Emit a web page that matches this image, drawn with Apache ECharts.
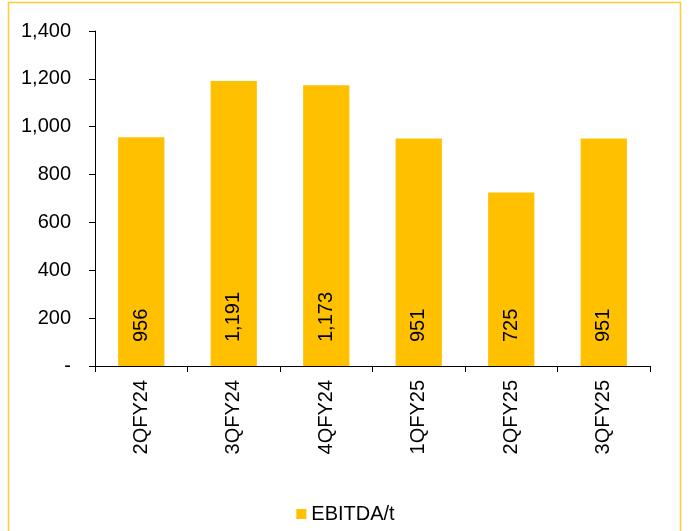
<!DOCTYPE html>
<html>
<head>
<meta charset="utf-8">
<script src="https://cdn.jsdelivr.net/npm/echarts@6/dist/echarts.min.js"></script>
<style>
  html, body { margin: 0; padding: 0; background: #fff; }
  #chart { width: 691px; height: 531px; }
</style>
</head>
<body>
<div id="chart"></div>
<script>
const quarters = ["2QFY24", "3QFY24", "4QFY24", "1QFY25", "2QFY25", "3QFY25"];
const ebitdaPerT = [956, 1191, 1173, 951, 725, 951];
const yTicks = [0, 200, 400, 600, 800, 1000, 1200, 1400];

const fmt = (v) => (v === 0 ? "-" : v.toLocaleString("en-US"));
const font = "Liberation Sans, Arial, sans-serif";

const chart = echarts.init(document.getElementById("chart"));
chart.setOption({
  animation: false,
  textStyle: { fontFamily: font },
  graphic: [
    {
      type: "rect",
      shape: { x: 8.5, y: 2.5, width: 672, height: 560 },
      style: { fill: "none", stroke: "#FFCC33", lineWidth: 1.5 },
      silent: true,
    },
  ],
  grid: { left: 95, right: 41, top: 31, bottom: 165 },
  legend: {
    bottom: 2,
    left: "center",
    itemWidth: 10,
    itemHeight: 10,
    icon: "rect",
    itemGap: 6,
    textStyle: { fontSize: 20, color: "#000", fontFamily: font },
    data: ["EBITDA/t"],
  },
  xAxis: {
    type: "category",
    data: quarters,
    axisLine: { lineStyle: { color: "#000", width: 1 } },
    axisTick: { show: true, length: 6, alignWithLabel: false, lineStyle: { color: "#000" } },
    axisLabel: { rotate: 90, margin: 14, fontSize: 20, color: "#000", fontFamily: font },
  },
  yAxis: {
    type: "value",
    min: yTicks[0],
    max: yTicks[yTicks.length - 1],
    interval: 200,
    splitLine: { show: false },
    axisLine: { show: true, lineStyle: { color: "#000", width: 1 } },
    axisTick: { show: true, length: 6, lineStyle: { color: "#000" } },
    axisLabel: { margin: 24, fontSize: 20, color: "#000", fontFamily: font, formatter: fmt },
  },
  series: [
    {
      name: "EBITDA/t",
      type: "bar",
      data: ebitdaPerT,
      barWidth: "50%",
      itemStyle: { color: "#FFC000" },
      label: {
        show: true,
        position: "insideBottom",
        distance: 24,
        rotate: 90,
        align: "left",
        verticalAlign: "middle",
        fontSize: 20,
        color: "#000",
        fontFamily: font,
        formatter: (p) => fmt(p.value),
      },
    },
  ],
});
</script>
</body>
</html>
